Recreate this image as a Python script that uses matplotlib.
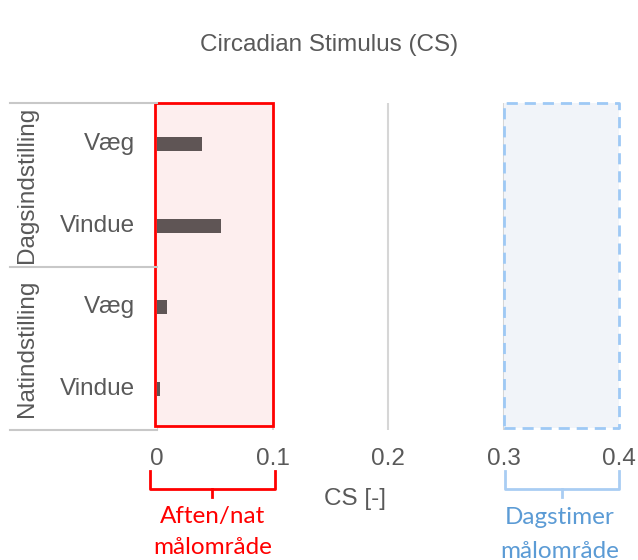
import matplotlib
matplotlib.use("Agg")
import matplotlib.pyplot as plt
import matplotlib.transforms as mtransforms
from matplotlib.patches import Rectangle

# ---- data ----
groups = ["Dagsindstilling", "Natindstilling"]
categories = ["Væg", "Vindue", "Væg", "Vindue"]
cs_values = [0.039, 0.055, 0.009, 0.003]
xticks = [0, 0.1, 0.2, 0.3, 0.4]
xtick_labels = ["0", "0.1", "0.2", "0.3", "0.4"]
night_range = [0.0, 0.1]
day_range = [0.3, 0.4]

plt.rcParams['font.family'] = ['Liberation Sans', 'DejaVu Sans']
GRAY = "#595959"
FS = 17.5

fig = plt.figure(figsize=(6.38, 5.6), dpi=100)
W, H = 638, 560
ax = fig.add_axes([157 / W, 1 - 430 / H, (619 - 157) / W, (430 - 103) / H])

ax.set_xlim(0, 0.4)
ax.set_ylim(len(categories) - 0.5, -0.5)

# gridlines
for xv in xticks:
    ax.axvline(xv, color="#d6d6d6", lw=1.5, zorder=0)

# target zones
ax.add_patch(Rectangle((night_range[0] - 0.0015, -0.5), night_range[1] - night_range[0] + 0.0015, 3.95,
                       facecolor="#fdeeee", edgecolor="#ff0000", lw=2, zorder=1, clip_on=False))
ax.add_patch(Rectangle((day_range[0], -0.5), day_range[1] - day_range[0], 3.97,
                       facecolor="#f1f4f9", edgecolor="none", zorder=1, clip_on=False))
ax.plot([day_range[0], day_range[1], day_range[1], day_range[0], day_range[0]],
        [3.47, 3.47, -0.5, -0.5, 3.47], color="#9ec9f5", lw=2, ls=(0, (4, 2.5)),
        zorder=2, clip_on=False)

# bars
ypos = list(range(len(categories)))
ax.barh(ypos, cs_values, height=0.17, color="#5f5555", zorder=3)

# axes styling
for s in ax.spines.values():
    s.set_visible(False)
ax.set_yticks([])
ax.set_xticks(xticks)
ax.set_xticklabels(xtick_labels, fontsize=FS, color=GRAY)
ax.tick_params(axis="x", length=0, pad=13)

# left category table
for yv, lab in zip(ypos, categories):
    ax.text(-0.019, yv, lab, ha="right", va="center", fontsize=FS, color=GRAY)
trans_lines = mtransforms.blended_transform_factory(fig.transFigure, ax.transData)
for yv in [-0.5, 1.5, 3.5]:
    ax.plot([10 / W, 157 / W], [yv, yv], color="#c8c8c8", lw=1.5,
            transform=trans_lines, clip_on=False)
for gi, g in enumerate(groups):
    ax.text(27 / W, 0.5 + 2 * gi, g, rotation=90, ha="center", va="center",
            fontsize=FS, color=GRAY, transform=trans_lines)

# title
fig.text(329 / W, 1 - 45 / H, "Circadian Stimulus (CS)", ha="center", va="center",
         fontsize=FS, color=GRAY)

# x label
fig.text(355 / W, 1 - 499 / H, "CS [-]", ha="center", va="center", fontsize=FS, color=GRAY)

# braces
trans_b = mtransforms.blended_transform_factory(ax.transData, fig.transFigure)

def brace(x0, x1, color):
    ytop = 1 - 471 / H
    ybot = 1 - 489 / H
    ytip = 1 - 497 / H
    xm = (x0 + x1) / 2
    ax.plot([x0, x0, x1, x1], [ytop, ybot, ybot, ytop], color=color, lw=2,
            transform=trans_b, clip_on=False, solid_joinstyle="round")
    ax.plot([xm, xm], [ybot, ytip], color=color, lw=2, transform=trans_b, clip_on=False)

brace(-0.006, 0.102, "#ff0000")
brace(0.301, 0.4, "#a9cdf3")

BF = ["Lato", "DejaVu Sans"]
fig.text(213 / W, 1 - 517 / H, "Aften/nat", ha="center", va="center",
         fontsize=FS, color="#ff0000", family=BF)
fig.text(213 / W, 1 - 547 / H, "målområde", ha="center", va="center",
         fontsize=FS, color="#ff0000", family=BF)
fig.text(560 / W, 1 - 517 / H, "Dagstimer", ha="center", va="center",
         fontsize=FS, color="#5b9bd5", family=BF)
fig.text(560 / W, 1 - 551 / H, "målområde", ha="center", va="center",
         fontsize=FS, color="#5b9bd5", family=BF)

fig.savefig("out.png", dpi=100, facecolor="white")
